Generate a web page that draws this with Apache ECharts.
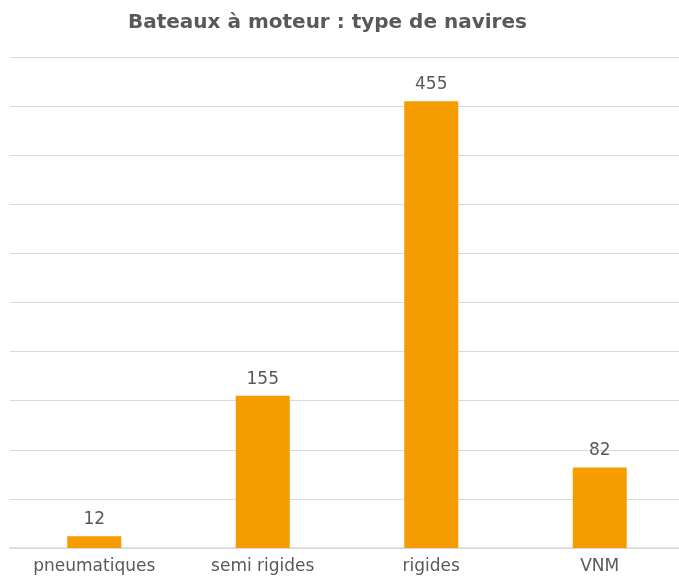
<!DOCTYPE html>
<html>
<head>
<meta charset="utf-8">
<script src="https://cdn.jsdelivr.net/npm/echarts@6/dist/echarts.min.js"></script>
<style>
  html, body { margin: 0; padding: 0; background: #fff; }
  #chart { width: 679px; height: 583px; }
</style>
</head>
<body>
<div id="chart"></div>
<script>
// données
const categories = ['pneumatiques', 'semi rigides', 'rigides', 'VNM'];
const values = [12, 155, 455, 82];

const chart = echarts.init(document.getElementById('chart'));
const option = {
  animation: false,
  title: {
    text: 'Bateaux à moteur : type de navires',
    left: 123,
    top: 8,
    textStyle: {
      fontFamily: 'DejaVu Sans',
      fontSize: 20,
      fontWeight: 'bold',
      color: '#595959'
    }
  },
  grid: {
    left: 10,
    width: 674,
    top: 57,
    bottom: 35,
    outerBoundsMode: 'none'
  },
  xAxis: {
    type: 'category',
    data: categories,
    axisTick: { show: false },
    axisLine: { lineStyle: { color: '#D9D9D9', width: 1.5 } },
    axisLabel: {
      fontFamily: 'DejaVu Sans',
      fontSize: 17,
      color: '#595959',
      margin: 10
    }
  },
  yAxis: {
    type: 'value',
    min: 0,
    max: 500,
    interval: 50,
    axisLabel: { show: false },
    axisLine: { show: false },
    axisTick: { show: false },
    splitLine: { lineStyle: { color: '#D9D9D9', width: 1 } }
  },
  series: [
    {
      type: 'bar',
      data: values,
      barWidth: 54,
      itemStyle: { color: '#F59C00' },
      label: {
        show: true,
        position: 'top',
        distance: 8,
        fontFamily: 'DejaVu Sans',
        fontSize: 17,
        color: '#595959'
      }
    }
  ]
};
chart.setOption(option);
</script>
</body>
</html>
